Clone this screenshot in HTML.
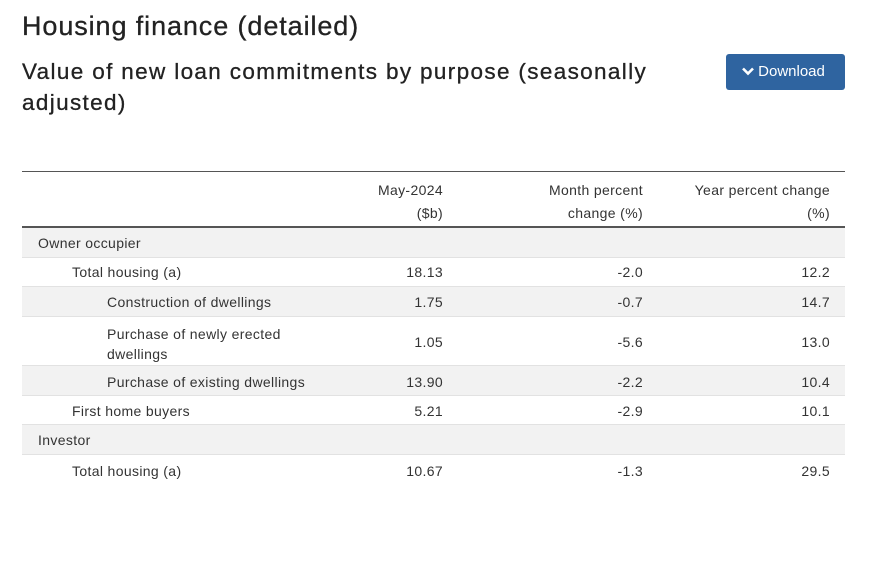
<!DOCTYPE html>
<html><head><style>
body{margin:0;width:873px;height:569px;background:#fff;font-family:"Liberation Sans",sans-serif;color:#222;position:relative;overflow:hidden}
.a{position:absolute;white-space:nowrap}
.r{position:absolute;left:22px;width:823px;border-bottom:1px solid #e2e2e2}
.s{background:#f2f2f2}
.t{position:absolute;font-size:14px;color:#333;letter-spacing:0.35px}
.n{text-align:right}
</style></head><body>
<div class="a" style="left:22px;top:11px;font-size:27px;color:#222;letter-spacing:0.9px;-webkit-text-stroke:0.3px #222">Housing finance (detailed)</div>
<div class="a" style="left:22px;top:56px;font-size:22.5px;line-height:31px;color:#222;letter-spacing:1.35px;-webkit-text-stroke:0.3px #222">Value of new loan commitments by purpose (seasonally<br>adjusted)</div>
<div class="a" style="left:726px;top:54px;width:119px;height:36px;background:#2f64a0;border-radius:3px;color:#fff;font-size:15px;line-height:36px;text-align:center"><svg width="12" height="9" style="vertical-align:0px;margin-right:4px;margin-left:-4px"><path d="M1 1.5 L6 6.5 L11 1.5" stroke="#fff" stroke-width="2.6" fill="none"/></svg>Download</div>

<div class="a" style="left:22px;top:171px;width:823px;height:0;border-top:1.5px solid #555"></div>
<div class="t n" style="left:343px;width:100px;top:179px;line-height:23px">May-2024<br>($b)</div>
<div class="t n" style="left:473px;width:170px;top:179px;line-height:23px">Month percent<br>change (%)</div>
<div class="t n" style="left:630px;width:200px;top:179px;line-height:23px">Year percent change<br>(%)</div>
<div class="a" style="left:22px;top:226px;width:823px;height:0;border-top:2px solid #555"></div>

<div class="r s" style="top:228px;height:29px"></div>
<div class="r" style="top:257px;height:29px"></div>
<div class="r s" style="top:287px;height:29px"></div>
<div class="r" style="top:317px;height:48px"></div>
<div class="r s" style="top:366px;height:29px"></div>
<div class="r" style="top:396px;height:28px"></div>
<div class="r s" style="top:425px;height:29px"></div>
<div class="r" style="top:455px;height:29px;border-bottom:none"></div>

<div class="t" style="left:38px;top:235px">Owner occupier</div>
<div class="t" style="left:72px;top:264px">Total housing (a)</div>
<div class="t" style="left:107px;top:294px">Construction of dwellings</div>
<div class="t" style="left:107px;top:324px;line-height:20px">Purchase of newly erected<br>dwellings</div>
<div class="t" style="left:107px;top:374px">Purchase of existing dwellings</div>
<div class="t" style="left:72px;top:403px">First home buyers</div>
<div class="t" style="left:38px;top:432px">Investor</div>
<div class="t" style="left:72px;top:463px">Total housing (a)</div>

<div class="t n" style="left:343px;width:100px;top:264px">18.13</div>
<div class="t n" style="left:493px;width:150px;top:264px">-2.0</div>
<div class="t n" style="left:650px;width:180px;top:264px">12.2</div>
<div class="t n" style="left:343px;width:100px;top:294px">1.75</div>
<div class="t n" style="left:493px;width:150px;top:294px">-0.7</div>
<div class="t n" style="left:650px;width:180px;top:294px">14.7</div>
<div class="t n" style="left:343px;width:100px;top:334px">1.05</div>
<div class="t n" style="left:493px;width:150px;top:334px">-5.6</div>
<div class="t n" style="left:650px;width:180px;top:334px">13.0</div>
<div class="t n" style="left:343px;width:100px;top:374px">13.90</div>
<div class="t n" style="left:493px;width:150px;top:374px">-2.2</div>
<div class="t n" style="left:650px;width:180px;top:374px">10.4</div>
<div class="t n" style="left:343px;width:100px;top:403px">5.21</div>
<div class="t n" style="left:493px;width:150px;top:403px">-2.9</div>
<div class="t n" style="left:650px;width:180px;top:403px">10.1</div>
<div class="t n" style="left:343px;width:100px;top:463px">10.67</div>
<div class="t n" style="left:493px;width:150px;top:463px">-1.3</div>
<div class="t n" style="left:650px;width:180px;top:463px">29.5</div>
</body></html>
